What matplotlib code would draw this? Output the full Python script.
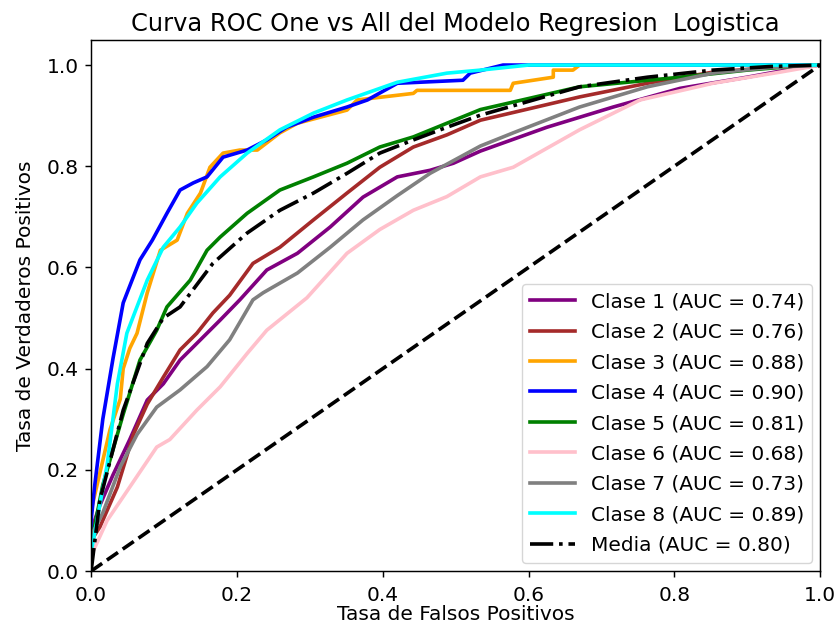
import matplotlib
matplotlib.use("Agg")
import matplotlib.pyplot as plt

S = 1.306  # line scale relative to default 6.4x4.8 figure
F = 1.45   # font scale

# ---- data ----
c1_fpr = [0, 0, 0.012, 0.03, 0.053, 0.077, 0.099, 0.122, 0.145, 0.177, 0.204, 0.241, 0.283, 0.328, 0.373, 0.42, 0.465, 0.497, 0.534, 0.625, 0.716, 0.808, 0.9, 0.968, 1.0]
c1_tpr = [0, 0.08, 0.13, 0.19, 0.26, 0.338, 0.37, 0.417, 0.45, 0.496, 0.536, 0.595, 0.628, 0.68, 0.739, 0.779, 0.792, 0.806, 0.83, 0.877, 0.917, 0.954, 0.976, 0.994, 1.0]

c2_fpr = [0, 0, 0.012, 0.036, 0.058, 0.077, 0.099, 0.122, 0.145, 0.167, 0.19, 0.222, 0.259, 0.305, 0.351, 0.396, 0.442, 0.488, 0.534, 0.67, 0.763, 0.853, 0.93, 1.0]
c2_tpr = [0, 0.06, 0.087, 0.166, 0.27, 0.33, 0.383, 0.437, 0.47, 0.51, 0.545, 0.608, 0.64, 0.694, 0.747, 0.798, 0.838, 0.862, 0.891, 0.937, 0.964, 0.986, 0.995, 1.0]

c3_fpr = [0, 0, 0.026, 0.04, 0.044, 0.053, 0.063, 0.077, 0.095, 0.118, 0.132, 0.150, 0.163, 0.181, 0.204, 0.228, 0.259, 0.283, 0.351, 0.365, 0.442, 0.447, 0.575, 0.579, 0.634, 0.634, 0.661, 0.67, 1.0]
c3_tpr = [0, 0.12, 0.28, 0.34, 0.40, 0.44, 0.47, 0.55, 0.634, 0.654, 0.707, 0.747, 0.798, 0.826, 0.832, 0.832, 0.866, 0.885, 0.911, 0.931, 0.944, 0.95, 0.95, 0.964, 0.976, 0.99, 0.99, 1.0, 1.0]

c4_fpr = [0, 0, 0.005, 0.016, 0.030, 0.044, 0.067, 0.084, 0.104, 0.122, 0.140, 0.159, 0.181, 0.214, 0.241, 0.268, 0.305, 0.351, 0.379, 0.42, 0.51, 0.52, 0.565, 1.0]
c4_tpr = [0, 0.10, 0.17, 0.30, 0.42, 0.53, 0.615, 0.654, 0.707, 0.753, 0.767, 0.779, 0.818, 0.832, 0.852, 0.877, 0.897, 0.917, 0.931, 0.964, 0.970, 0.984, 1.0, 1.0]

c5_fpr = [0, 0, 0.003, 0.016, 0.044, 0.067, 0.09, 0.104, 0.136, 0.159, 0.177, 0.214, 0.259, 0.305, 0.351, 0.396, 0.442, 0.488, 0.534, 0.67, 0.808, 0.9, 0.968, 1.0]
c5_tpr = [0, 0.05, 0.075, 0.17, 0.31, 0.417, 0.476, 0.522, 0.575, 0.634, 0.66, 0.707, 0.753, 0.779, 0.806, 0.838, 0.858, 0.885, 0.912, 0.957, 0.976, 0.99, 0.998, 1.0]

c6_fpr = [0, 0, 0.003, 0.022, 0.053, 0.09, 0.108, 0.145, 0.177, 0.214, 0.241, 0.296, 0.351, 0.396, 0.442, 0.488, 0.534, 0.579, 0.67, 0.753, 0.853, 0.945, 1.0]
c6_tpr = [0, 0.02, 0.04, 0.10, 0.166, 0.245, 0.26, 0.318, 0.364, 0.43, 0.476, 0.54, 0.628, 0.675, 0.713, 0.74, 0.779, 0.798, 0.872, 0.931, 0.964, 0.986, 1.0]

c7_fpr = [0, 0, 0.016, 0.04, 0.063, 0.09, 0.122, 0.159, 0.19, 0.222, 0.236, 0.283, 0.328, 0.373, 0.42, 0.465, 0.534, 0.579, 0.67, 0.763, 0.853, 0.93, 1.0]
c7_tpr = [0, 0.07, 0.115, 0.206, 0.27, 0.324, 0.358, 0.404, 0.457, 0.536, 0.55, 0.589, 0.64, 0.694, 0.742, 0.786, 0.84, 0.866, 0.917, 0.957, 0.984, 0.995, 1.0]

c8_fpr = [0, 0, 0.003, 0.022, 0.036, 0.049, 0.077, 0.099, 0.122, 0.145, 0.177, 0.214, 0.259, 0.305, 0.351, 0.42, 0.488, 0.534, 0.6, 1.0]
c8_tpr = [0, 0.04, 0.06, 0.21, 0.37, 0.47, 0.575, 0.64, 0.68, 0.727, 0.779, 0.826, 0.872, 0.905, 0.931, 0.966, 0.984, 0.99, 1.0, 1.0]

mean_fpr = [0, 0.012, 0.044, 0.077, 0.099, 0.122, 0.167, 0.214, 0.259, 0.305, 0.351, 0.396, 0.442, 0.488, 0.534, 0.67, 0.763, 0.853, 0.93, 1.0]
mean_tpr = [0, 0.14, 0.318, 0.45, 0.50, 0.522, 0.608, 0.668, 0.713, 0.747, 0.786, 0.826, 0.852, 0.877, 0.901, 0.957, 0.976, 0.99, 0.997, 1.0]

class_names = ["Clase 1", "Clase 2", "Clase 3", "Clase 4", "Clase 5", "Clase 6", "Clase 7", "Clase 8"]
aucs = [0.74, 0.76, 0.88, 0.90, 0.81, 0.68, 0.73, 0.89]
mean_auc = 0.80
colors = ["purple", "brown", "orange", "blue", "green", "pink", "gray", "cyan"]

fprs = [c1_fpr, c2_fpr, c3_fpr, c4_fpr, c5_fpr, c6_fpr, c7_fpr, c8_fpr]
tprs = [c1_tpr, c2_tpr, c3_tpr, c4_tpr, c5_tpr, c6_tpr, c7_tpr, c8_tpr]

plt.rcParams['font.family'] = ['DejaVu Sans']
plt.rcParams['font.size'] = 10 * F

fig = plt.figure(figsize=(8.36, 6.31), dpi=100)
ax = fig.add_axes([0.109, 0.095, 0.872, 0.842])

for f, t, c, n, a in zip(fprs, tprs, colors, class_names, aucs):
    ax.plot(f, t, color=c, lw=2 * S, label=f"{n} (AUC = {a:.2f})")

ax.plot(mean_fpr, mean_tpr, 'k-.', lw=2 * S, label=f"Media (AUC = {mean_auc:.2f})")
ax.plot([0, 1], [0, 1], 'k--', lw=2 * S)

ax.set_xlim(0.0, 1.0)
ax.set_ylim(0.0, 1.05)
ax.tick_params(labelsize=10 * F, width=0.8 * S, length=3.5 * S)
ax.tick_params(axis='x', pad=6)
ax.tick_params(axis='y', pad=4.5)
ax.set_xlabel("Tasa de Falsos Positivos", fontsize=10 * F, labelpad=0)
ax.set_ylabel("Tasa de Verdaderos Positivos", fontsize=10 * F, labelpad=8)
ax.set_title("Curva ROC One vs All del Modelo Regresion  Logistica", fontsize=12 * F, pad=6)
for sp in ax.spines.values():
    sp.set_linewidth(0.8 * S)
ax.legend(loc="lower right", fontsize=10 * F, handlelength=2.2, labelspacing=0.57,
          borderaxespad=0.4)

fig.savefig("out.png", dpi=100)
